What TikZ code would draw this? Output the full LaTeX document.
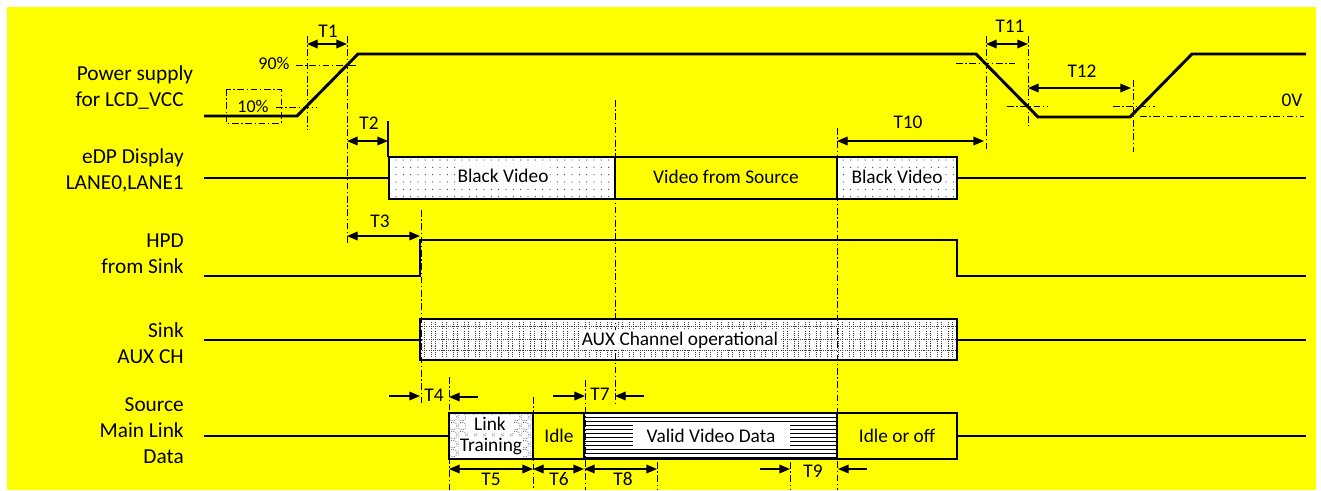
\documentclass[tikz,border=0pt]{standalone}
\usepackage{fontspec}
\setmainfont{Carlito}
\usetikzlibrary{arrows.meta,patterns.meta}
\definecolor{bgyellow}{RGB}{255,255,0}
\tikzset{
  sig/.style={line width=2.2pt, line join=miter},
  dashdot/.style={line width=0.7pt, dash pattern=on 5pt off 2pt on 1pt off 2pt},
  thinsolid/.style={line width=0.8pt},
  dimboth/.style={line width=1pt, {Triangle[length=8pt,width=6.5pt]}-{Triangle[length=8pt,width=6.5pt]}},
  dimone/.style={line width=1pt, -{Triangle[length=8pt,width=6.5pt]}},
  rowlabel/.style={font=\fontsize{16}{19.5}\selectfont, align=right, anchor=east, inner sep=0pt},
  tlabel/.style={font=\fontsize{14.5}{17}\selectfont, inner sep=1pt},
  boxtext/.style={font=\fontsize{14.5}{17}\selectfont, inner sep=1.5pt},
  pct/.style={font=\fontsize{13.5}{15}\selectfont, inner sep=1pt},
  dotfill/.style={pattern={Dots[distance=5.5pt,radius=0.45pt]}, pattern color=black!75},
  gridline/.style={line width=0.5pt, black!75, dash pattern=on 0.8pt off 0.8pt},
}
\begin{document}
\begin{tikzpicture}[x=0.75pt,y=-0.75pt]
\useasboundingbox (0,0) rectangle (1321,490);
\fill[white] (0,0) rectangle (1321,490);
\fill[bgyellow] (7,7) rectangle (1316,490);

% ---------- row labels
\node[rowlabel] (lpsu) at (184,88) {Power supply\hspace*{-7pt}\\for LCD\_VCC};
\node[rowlabel] (ledp) at (184,170) {eDP Display\\LANE0,LANE1};
\node[rowlabel] (lhpd) at (184,254) {HPD\\from Sink};
\node[rowlabel] (laux) at (184,343) {Sink\\AUX CH};
\node[rowlabel] (lsrc) at (184,431) {Source\\Main Link\\Data};

% ---------- row 1: power supply
\draw[sig] (204,116) -- (297,116) -- (358,54) -- (976,54) -- (1038,117) -- (1130,117) -- (1192,54) -- (1306,54);

% ---------- row 2: eDP lanes
\fill[white] (389,157) rectangle (615,199);
\fill[dotfill] (389,157) rectangle (615,199);
\fill[white] (837,157) rectangle (957,199);
\fill[dotfill] (837,157) rectangle (957,199);
\draw[sig] (204,178) -- (389,178);
\draw[sig] (389,157) rectangle (615,199);
\draw[sig] (615,157) rectangle (837,199);
\draw[sig] (837,157) rectangle (957,199);
\draw[sig] (957,178) -- (1306,178);

% ---------- row 3: HPD
\draw[sig] (204,276) -- (420,276) -- (420,240) -- (957,240) -- (957,276) -- (1306,276);

% ---------- row 4: AUX
\fill[white] (420,319) rectangle (957,360);
\begin{scope}
  \clip (420,319) rectangle (957,360);
  \foreach \x in {424,435,...,957} {
    \draw[gridline] (\x,322) -- (\x,357);
    \draw[gridline] (\x+7,322) -- (\x+7,357);
  }
  \foreach \y in {326,339,350} \draw[gridline] (420,\y) -- (957,\y);
\end{scope}
\draw[sig] (204,340) -- (420,340);
\draw[sig] (420,319) rectangle (957,360);
\draw[sig] (957,340) -- (1306,340);

% ---------- row 5: source main link
\fill[white] (449,413) rectangle (533,459);
\begin{scope}
  \clip (449,413) rectangle (533,459);
  \foreach \x in {453,462,...,535} \foreach \y in {417,426,...,462}
    \draw[line width=0.4pt, black!70, dash pattern=on 0.8pt off 1pt] (\x,\y) circle[radius=3pt];
\end{scope}
\fill[white] (584,413) rectangle (837,459);
\foreach \y in {417,421,...,457} \draw[line width=0.6pt] (584,\y) -- (837,\y);
\draw[sig] (204,436) -- (449,436);
\draw[sig] (449,413) rectangle (533,459);
\draw[sig] (533,413) rectangle (584,459);
\draw[sig] (584,413) rectangle (837,459);
\draw[sig] (837,413) rectangle (957,459);
\draw[sig] (957,436) -- (1306,436);

% ---------- dash-dot reference lines
\draw[dashdot] (226,89) rectangle (281,123);
\draw[dashdot] (276,107) -- (317,107);
\draw[dashdot] (296,65) -- (356,65);
\draw[dashdot] (956,63) -- (1015,63);
\draw[dashdot] (1007,106) -- (1048,106);
\draw[dashdot] (1113,106) -- (1155,106);
\draw[dashdot] (1140,116) -- (1304,116);

\coordinate (v1t) at (307,36);  \coordinate (v1b) at (307,130);
\coordinate (v2t) at (347,36);  \coordinate (v2b) at (347,245);
\coordinate (v3t) at (421,210); \coordinate (v3b) at (421,405);
\coordinate (v4t) at (449,377); \coordinate (v4b) at (449,490);
\coordinate (v5t) at (533,397); \coordinate (v5b) at (533,490);
\coordinate (v6t) at (585,380); \coordinate (v6b) at (585,490);
\coordinate (v7t) at (615,100); \coordinate (v7b) at (615,405);
\coordinate (v8t) at (657,462); \coordinate (v8b) at (657,490);
\coordinate (v9t) at (790,462); \coordinate (v9b) at (790,490);
\coordinate (v10t) at (837,128); \coordinate (v10b) at (837,490);
\coordinate (v11t) at (986,36); \coordinate (v11b) at (986,152);
\coordinate (v12t) at (1028,36); \coordinate (v12b) at (1028,126);
\coordinate (v13t) at (1133,80); \coordinate (v13b) at (1133,152);
\foreach \i in {1,...,13} \draw[dashdot] (v\i t) -- (v\i b);
\coordinate (t2t) at (388,121); \coordinate (t2b) at (388,157);
\draw[thinsolid] (t2t) -- (t2b);

% ---------- dimension arrows
\draw[dimboth] (307,44) -- (347,44);
\draw[dimboth] (347,141) -- (388,141);
\draw[dimboth] (347,236) -- (420,236);
\draw[dimone] (389,396) -- (420,396);
\draw[dimone] (478,397) -- (449,397);
\draw[dimboth] (449,469) -- (533,469);
\draw[dimboth] (533,469) -- (584,469);
\draw[dimboth] (584,469) -- (657,469);
\draw[dimone] (553,396) -- (585,396);
\draw[dimone] (644,396) -- (615,396);
\draw[dimone] (760,469) -- (790,469);
\draw[dimone] (867,469) -- (838,469);
\draw[dimboth] (837,141) -- (984,141);
\draw[dimboth] (986,44) -- (1028,44);
\draw[dimboth] (1028,88) -- (1131,88);

% ---------- timing labels
\node[tlabel] (T1) at (328,31) {T1};
\node[tlabel] (T2) at (369,123) {T2};
\node[tlabel] (T3) at (380,221) {T3};
\node[tlabel] (T4) at (434,395) {T4};
\node[tlabel] (T5) at (491,479) {T5};
\node[tlabel] (T6) at (559,479) {T6};
\node[tlabel] (T7) at (600,394) {T7};
\node[tlabel] (T8) at (623,479) {T8};
\node[tlabel] (T9) at (813,471) {T9};
\node[tlabel] (T10) at (908,122) {T10};
\node[tlabel] (T11) at (1010,26) {T11};
\node[tlabel] (T12) at (1082,71) {T12};

\node[pct] (p90) at (274,63) {90\%};
\node[pct] (p10) at (253,106) {10\%};
\node[tlabel] (p0v) at (1292,100) {0V};

% ---------- box texts
\node[boxtext, fill=white] (bv1) at (503,176) {Black Video};
\node[boxtext] (vfs) at (726,177) {Video from Source};
\node[boxtext, fill=white] (bv2) at (897,177) {Black Video};
\node[boxtext, fill=white] (auxt) at (680,340) {AUX Channel operational};
\node[boxtext, fill=white, inner xsep=6pt] (lt1) at (490,424) {Link};
\node[boxtext, fill=white, inner xsep=1pt] (lt2) at (491,447) {Training};
\node[boxtext] (idle) at (559,436) {Idle};
\node[boxtext, fill=white, minimum width=157*0.75pt, minimum height=22*0.75pt] (vvd) at (711,436) {Valid Video Data};
\node[boxtext] (idoff) at (897,436) {Idle or off};
\end{tikzpicture}
\end{document}
